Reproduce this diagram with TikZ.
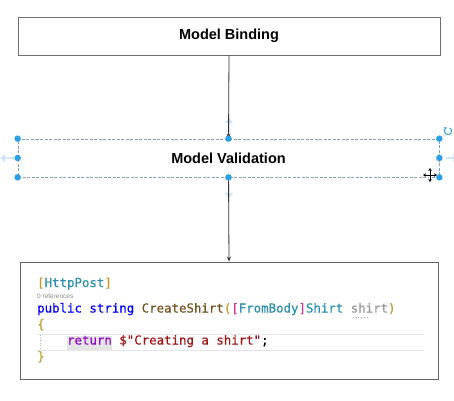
\documentclass[tikz,border=0pt]{standalone}
\usepackage{fontspec}
\setmainfont{Liberation Sans}
\newfontfamily\codefont[FakeBold=0.4]{DejaVu Sans Mono}
\usetikzlibrary{arrows.meta}
\definecolor{boxline}{HTML}{6E6E6E}
\definecolor{selline}{HTML}{7FA3B5}
\definecolor{handle}{HTML}{2CA0E6}
\definecolor{hoverc}{HTML}{CFE5F5}
\definecolor{cgold}{HTML}{C59A2C}
\definecolor{cteal}{HTML}{2B91AF}
\definecolor{cblue}{HTML}{0000FF}
\definecolor{cmeth}{HTML}{74531F}
\definecolor{cmag}{HTML}{D0308A}
\definecolor{cparam}{HTML}{9A9A9A}
\definecolor{cret}{HTML}{8F08C4}
\definecolor{cstr}{HTML}{A31515}
\definecolor{cref}{HTML}{8A8A8A}
\definecolor{hlgray}{HTML}{E4E4E4}
\definecolor{rulegray}{HTML}{E6E6E6}
\tikzset{
  stagebox/.style={draw=boxline, line width=0.8pt, fill=white, minimum width=422pt, minimum height=38pt, inner sep=0pt, font=\fontsize{14.5}{16}\selectfont\bfseries},
  selbox/.style={draw=selline, dashed, dash pattern=on 3pt off 1.5pt, line width=0.7pt, fill=white, minimum width=421pt, minimum height=38pt, inner sep=0pt, font=\fontsize{14.5}{16}\selectfont\bfseries},
  codebox/.style={draw=boxline!90!black, line width=0.9pt, fill=white, minimum width=418pt, minimum height=117pt, inner sep=0pt},
  conn/.style={draw=black!80, line width=0.8pt},
  tip/.style={-{Stealth[length=5pt,width=4pt]}},
  hdl/.style={circle, fill=handle, inner sep=0pt, minimum size=6.5pt},
  hover/.style={draw=hoverc, line width=2.2pt, -{Triangle[length=5pt,width=8pt]}},
  codeline/.style={anchor=base west, inner sep=0pt, font=\codefont\fontsize{12.4}{14}\selectfont},
}
\begin{document}
\begin{tikzpicture}[x=1pt,y=-1pt]
\useasboundingbox (0,0) rectangle (454,400);
% hover arrows
\coordinate (hu0) at (229,133); \coordinate (hu1) at (229,118);
\coordinate (hd0) at (229,184); \coordinate (hd1) at (229,198);
\coordinate (hl0) at (14,158); \coordinate (hl1) at (0,158);
\coordinate (hr0) at (446,158); \coordinate (hr1) at (458,158);
\draw[hover] (hu0) -- (hu1);
\draw[hover] (hd0) -- (hd1);
\draw[hover] (hl0) -- (hl1);
\draw[hover] (hr0) -- (hr1);
% boxes
\node[stagebox] (bind) at (229,36) {Model Binding};
\node[selbox] (valid) at (228.5,158) {Model Validation};
\node[codebox] (code) at (229,320.5) {};
% connectors
\draw[conn,tip] (bind.south) -- (valid.north);
\draw[conn,tip] (valid.south) -- (code.north);
% handles
\foreach \a/\n in {north west/h1,north/h2,north east/h3,west/h4,east/h5,south west/h6,south/h7,south east/h8}
  \node[hdl] (\n) at (valid.\a) {};
% rotate icon
\coordinate (rot) at (448,131);
\draw[handle, line width=1pt, -{Stealth[length=2.5pt,width=3pt]}] ([shift={(60:3.6pt)}]rot) arc[start angle=60, end angle=-250, radius=3.6pt];
% move cursor
\coordinate (mv) at (430,175);
\begin{scope}[shift={(mv)}]
  \draw[white, line width=3pt] (-6,0) -- (6,0) (0,-6) -- (0,6);
  \draw[black, line width=0.9pt, {Stealth[length=3pt,width=3.5pt]}-{Stealth[length=3pt,width=3.5pt]}] (-7,0) -- (7,0);
  \draw[black, line width=0.9pt, {Stealth[length=3pt,width=3.5pt]}-{Stealth[length=3pt,width=3.5pt]}] (0,-7) -- (0,7);
\end{scope}
% code content
\fill[rulegray] (37,333.6) rectangle (424,334.4);
\fill[rulegray] (37,349.6) rectangle (424,350.4);
\draw[cref!60, dotted, line width=0.6pt] (40,335) -- (40,349);
\fill[hlgray] (66.5,335.5) rectangle (112,349.5);
\node[codeline] (l1) at (37,287) {\textcolor{cgold}{[}\textcolor{cteal}{HttpPost}\textcolor{cgold}{]}};
\node[anchor=base west, inner sep=0pt, font=\fontsize{6.5}{7}\selectfont, text=cref] (l2) at (37,298) {0 references};
\node[codeline] (l3) at (37,312.5) {\textcolor{cblue}{public string }\textcolor{cmeth}{CreateShirt}\textcolor{cgold}{(}\textcolor{cmag}{[}\textcolor{cteal}{FromBody}\textcolor{cmag}{]}\textcolor{cteal}{Shirt }\textcolor{cparam}{shirt}\textcolor{cgold}{)}};
\draw[cparam, dotted, line width=0.7pt] (353,317.5) -- (367,317.5);
\node[codeline] (l4) at (37,328.5) {\textcolor{cgold}{\{}};
\node[codeline] (l5) at (37,344.5) {\phantom{xxxx}\textcolor{cret}{return }\textcolor{cstr}{\$"Creating a shirt"}\textcolor{black}{;}};
\node[codeline] (l6) at (37,360.5) {\textcolor{cgold}{\}}};
\end{tikzpicture}
\end{document}
